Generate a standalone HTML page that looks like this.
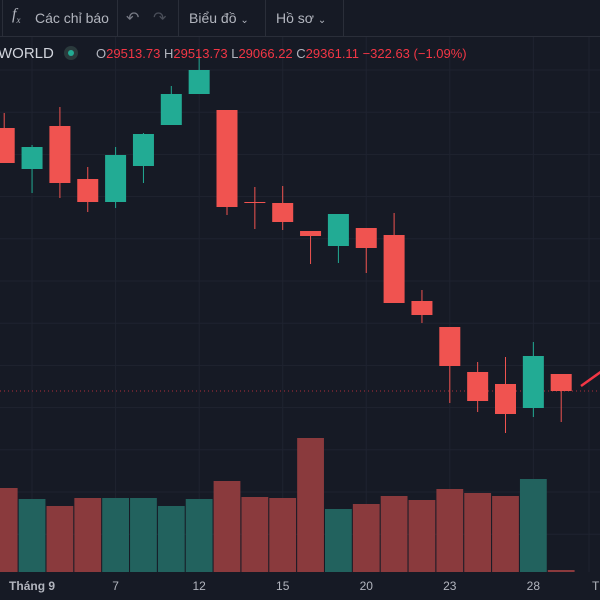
<!DOCTYPE html>
<html><head><meta charset="utf-8">
<style>
html,body{margin:0;padding:0;background:#161a25;width:600px;height:600px;overflow:hidden;font-family:"Liberation Sans","Noto Sans CJK SC",sans-serif;}
#wrap{position:relative;width:600px;height:600px;overflow:hidden;}
.tb{position:absolute;top:0;left:0;width:600px;height:36px;background:#161a25;border-bottom:1px solid #2a2e39;}
.sep{position:absolute;top:0;width:1px;height:36px;background:#2a2e39;}
.tt{position:absolute;top:10px;font-size:14px;color:#b2b5be;}
.hd{position:absolute;top:46px;font-size:13px;}
</style></head><body>
<div id="wrap">
<svg id="chart" width="600" height="600" style="position:absolute;left:0;top:0"></svg>
<div class="tb">
  <div class="sep" style="left:2px"></div>
  <div class="tt" style="left:12px;top:6px;font-family:'Liberation Serif',serif;font-style:italic;font-size:16px">f<sub style="font-size:9px">x</sub></div>
  <div class="tt" style="left:35px">Các chỉ báo</div>
  <div class="sep" style="left:117px"></div>
  <div class="tt" style="left:126px;font-size:16px;top:8px;color:#787b86">↶</div>
  <div class="tt" style="left:153px;font-size:16px;top:8px;color:#4a4e59">↷</div>
  <div class="sep" style="left:178px"></div>
  <div class="tt" style="left:189px">Biểu đồ <span style="font-size:10px">⌄</span></div>
  <div class="sep" style="left:265px"></div>
  <div class="tt" style="left:276px">Hồ sơ <span style="font-size:10px">⌄</span></div>
  <div class="sep" style="left:343px"></div>
</div>
<div class="hd" style="left:-2px;color:#d1d4dc;font-size:15px;top:45px">WORLD</div>
<div style="position:absolute;left:64px;top:46px;width:14px;height:14px;border-radius:7px;background:#2a3a3c"><div style="position:absolute;left:4px;top:4px;width:6px;height:6px;border-radius:3px;background:#22ab94"></div></div>
<div class="hd" style="left:96px;color:#b2b5be">O<span style="color:#f23645">29513.73</span> H<span style="color:#f23645">29513.73</span> L<span style="color:#f23645">29066.22</span> C<span style="color:#f23645">29361.11</span> <span style="color:#f23645">−322.63 (−1.09%)</span></div>
</div>
<script>
const opens  = [31728,31359,31746,31269,31062,31386,31755,32034,31890,31062,31053,30801,30666,30828,30765,30171,29937,29532,29424,29208,29514];
const closes = [31413,31557,31233,31062,31485,31674,32034,32250,31017,31053,30882,30756,30954,30648,30153,30045,29586,29271,29154,29676,29361];
const highs  = [31863,31575,31917,31377,31557,31683,32106,32376,31890,31197,31206,30801,30954,30828,30963,30270,29937,29622,29667,29802,29514];
const lows   = [31413,31143,31098,30972,31008,31233,31755,32034,30945,30819,30810,30504,30513,30423,30153,29973,29253,29172,28983,29127,29082];
const volumes= [84,73,66,74,74,74,66,73,91,75,74,134,63,68,76,72,83,79,76,93,2];
const volUp  = [false,true,false,false,true,true,true,true,false,false,false,false,true,false,false,false,false,false,false,true,false];
const xLabels= ["Tháng 9","7","12","15","20","23","28","T"];
const xLabelIdx=[1,4,7,10,13,16,19,21];

const svg=document.getElementById('chart');
const NS='http://www.w3.org/2000/svg';
const x0=4.2, step=27.85;
function xs(i){return x0+i*step;}
function ys(p){return (32880-p)/9;}
const volBase=572, volK=1;
function yv(v){return volBase-v*volK;}
function mk(t,a){const e=document.createElementNS(NS,t);for(const k in a)e.setAttribute(k,a[k]);svg.appendChild(e);return e;}

for(let y=70;y<572;y+=42.2){const g=mk('line',{x1:0,x2:600,y1:y,y2:y,stroke:'#1f2330','stroke-width':1});

}
xLabelIdx.forEach(i=>{const g=mk('line',{x1:xs(i),x2:xs(i),y1:37,y2:572,stroke:'#1f2330','stroke-width':1});

});

volumes.forEach((v,i)=>{const r=mk('rect',{x:xs(i)-13.4,y:yv(v),width:26.8,height:volBase-yv(v),fill:volUp[i]?'#22625e':'#8a3a3d'});

});

const pl=mk('line',{x1:0,x2:600,y1:ys(closes[20]),y2:ys(closes[20]),stroke:'#f23645','stroke-width':1,'stroke-dasharray':'1 3','opacity':0.7});



opens.forEach((o,i)=>{const c=closes[i],up=c>o,col=up?'#22ab94':'#f05350';const x=xs(i);
const w=mk('line',{x1:x,x2:x,y1:ys(highs[i]),y2:ys(lows[i]),stroke:col,'stroke-width':1});


const top=ys(Math.max(o,c)),h=Math.max(1,ys(Math.min(o,c))-top);
const b=mk('rect',{x:x-10.5,y:top,width:21,height:h,fill:col});

});

const tr=mk('line',{x1:581,y1:386,x2:602,y2:371,stroke:'#f23645','stroke-width':2.5});



const ax=mk('rect',{x:0,y:573,width:600,height:27,fill:'#161a25'});


xLabels.forEach((t,k)=>{const tx=mk('text',{x:xs(xLabelIdx[k]),y:590,'text-anchor':k==7?'start':'middle',fill:'#b2b5be','font-size':12,'font-family':'Liberation Sans, sans-serif','font-weight':k==0?'bold':'normal'});
if(k==7)tx.setAttribute('x',592);
tx.textContent=t;

});
</script>
</body></html>
